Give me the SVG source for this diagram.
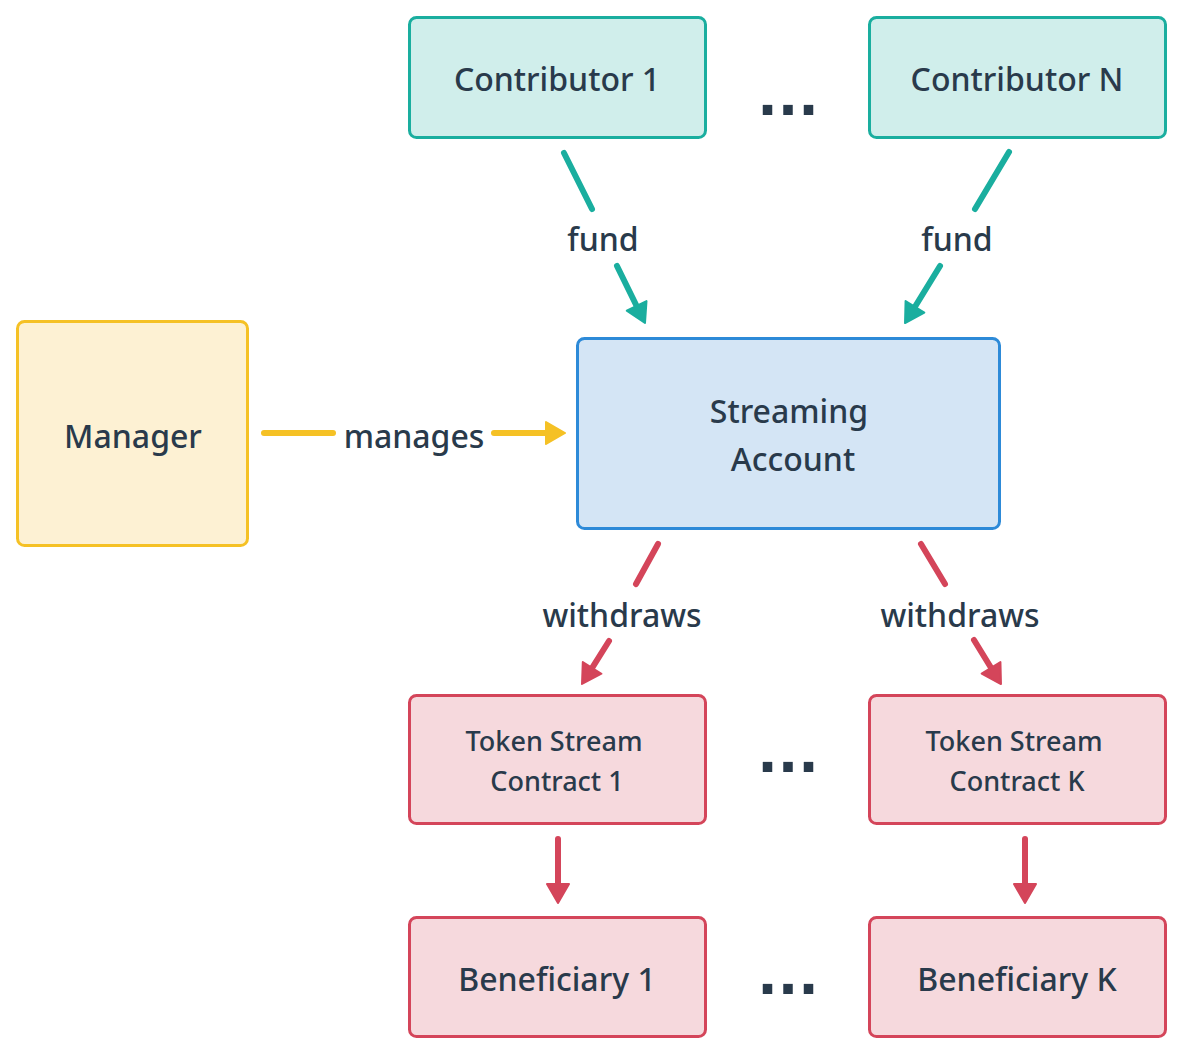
<svg xmlns="http://www.w3.org/2000/svg" width="1184" height="1056" viewBox="0 0 1184 1056">
<style>
  .box { stroke-width: 3; }
  .teal { fill: #d0eeeb; stroke: #1aae9f; }
  .yellow { fill: #fdf1d3; stroke: #f5c125; }
  .blue { fill: #d4e5f5; stroke: #2d8ad8; }
  .red { fill: #f6d9dd; stroke: #d4455a; }
  text { font-family: "Noto Sans", "DejaVu Sans", sans-serif; fill: #293a4b; text-anchor: middle; font-weight: 500; }
  .big { font-size: 32px; }
  .mid { font-size: 27px; }
  .lbl { font-size: 32px; }
  .dots { font-family: "DejaVu Sans", sans-serif; font-size: 54px; font-weight: bold; }
  .ln { fill: none; stroke-width: 6; stroke-linecap: round; }
  .c-teal { stroke: #1aae9f; }
  .c-yel { stroke: #f5c125; }
  .c-red { stroke: #d4455a; }
</style>
<defs>
  <marker id="aTeal" viewBox="0 0 22 26" refX="9" refY="13" markerWidth="22" markerHeight="26" markerUnits="userSpaceOnUse" orient="auto">
    <path d="M2,2 L21,13 L2,24 Z" fill="#1aae9f" stroke="#1aae9f" stroke-width="2" stroke-linejoin="round"/>
  </marker>
  <marker id="aYel" viewBox="0 0 22 26" refX="9" refY="13" markerWidth="22" markerHeight="26" markerUnits="userSpaceOnUse" orient="auto">
    <path d="M2,2 L21,13 L2,24 Z" fill="#f5c125" stroke="#f5c125" stroke-width="2" stroke-linejoin="round"/>
  </marker>
  <marker id="aRed" viewBox="0 0 22 26" refX="9" refY="13" markerWidth="22" markerHeight="26" markerUnits="userSpaceOnUse" orient="auto">
    <path d="M2,2 L21,13 L2,24 Z" fill="#d4455a" stroke="#d4455a" stroke-width="2" stroke-linejoin="round"/>
  </marker>
</defs>

<g id="contributor1">
  <rect class="box teal" x="409.5" y="17.5" width="296" height="120" rx="7"/>
  <text class="big" x="557" y="91">Contributor 1</text>
</g>
<g id="contributorN">
  <rect class="box teal" x="869.5" y="17.5" width="296" height="120" rx="7"/>
  <text class="big" x="1017" y="91">Contributor N</text>
</g>
<g id="manager">
  <rect class="box yellow" x="17.5" y="321.5" width="230" height="224" rx="7"/>
  <text class="big" x="133" y="448">Manager</text>
</g>
<g id="streaming-account">
  <rect class="box blue" x="577.5" y="338.5" width="422" height="190" rx="7"/>
  <text class="big" x="789" y="423">Streaming</text>
  <text class="big" x="793" y="471">Account</text>
</g>
<g id="token-stream-1">
  <rect class="box red" x="409.5" y="695.5" width="296" height="128" rx="7"/>
  <text class="mid" x="554" y="751">Token Stream</text>
  <text class="mid" x="557" y="791">Contract 1</text>
</g>
<g id="token-stream-K">
  <rect class="box red" x="869.5" y="695.5" width="296" height="128" rx="7"/>
  <text class="mid" x="1014" y="751">Token Stream</text>
  <text class="mid" x="1017" y="791">Contract K</text>
</g>
<g id="beneficiary1">
  <rect class="box red" x="409.5" y="917.5" width="296" height="119" rx="7"/>
  <text class="big" x="557" y="991">Beneficiary 1</text>
</g>
<g id="beneficiaryK">
  <rect class="box red" x="869.5" y="917.5" width="296" height="119" rx="7"/>
  <text class="big" x="1017" y="991">Beneficiary K</text>
</g>

<g id="ellipses">
  <text class="dots" x="788" y="115">...</text>
  <text class="dots" x="788" y="772">...</text>
  <text class="dots" x="788" y="994">...</text>
</g>

<g id="connectors">
  <line class="ln c-teal" x1="564" y1="153" x2="592" y2="209"/>
  <line class="ln c-teal" x1="617" y1="266" x2="639.7" y2="312.2" marker-end="url(#aTeal)"/>
  <text class="lbl" x="603" y="251">fund</text>

  <line class="ln c-teal" x1="1009" y1="152" x2="975" y2="209"/>
  <line class="ln c-teal" x1="940" y1="266" x2="911.3" y2="312.8" marker-end="url(#aTeal)"/>
  <text class="lbl" x="957" y="251">fund</text>

  <line class="ln c-yel" x1="264" y1="433" x2="333" y2="433"/>
  <line class="ln c-yel" x1="494" y1="433" x2="553" y2="433" marker-end="url(#aYel)"/>
  <text class="lbl" x="414" y="448">manages</text>

  <line class="ln c-red" x1="658" y1="544" x2="636" y2="584"/>
  <line class="ln c-red" x1="609" y1="641" x2="588.4" y2="673.8" marker-end="url(#aRed)"/>
  <text class="lbl" x="622" y="627">withdraws</text>

  <line class="ln c-red" x1="921" y1="544" x2="945" y2="584"/>
  <line class="ln c-red" x1="974" y1="640" x2="994.7" y2="673.8" marker-end="url(#aRed)"/>
  <text class="lbl" x="960" y="627">withdraws</text>

  <line class="ln c-red" x1="558" y1="839" x2="558" y2="891" marker-end="url(#aRed)"/>
  <line class="ln c-red" x1="1025" y1="839" x2="1025" y2="891" marker-end="url(#aRed)"/>
</g>
</svg>
